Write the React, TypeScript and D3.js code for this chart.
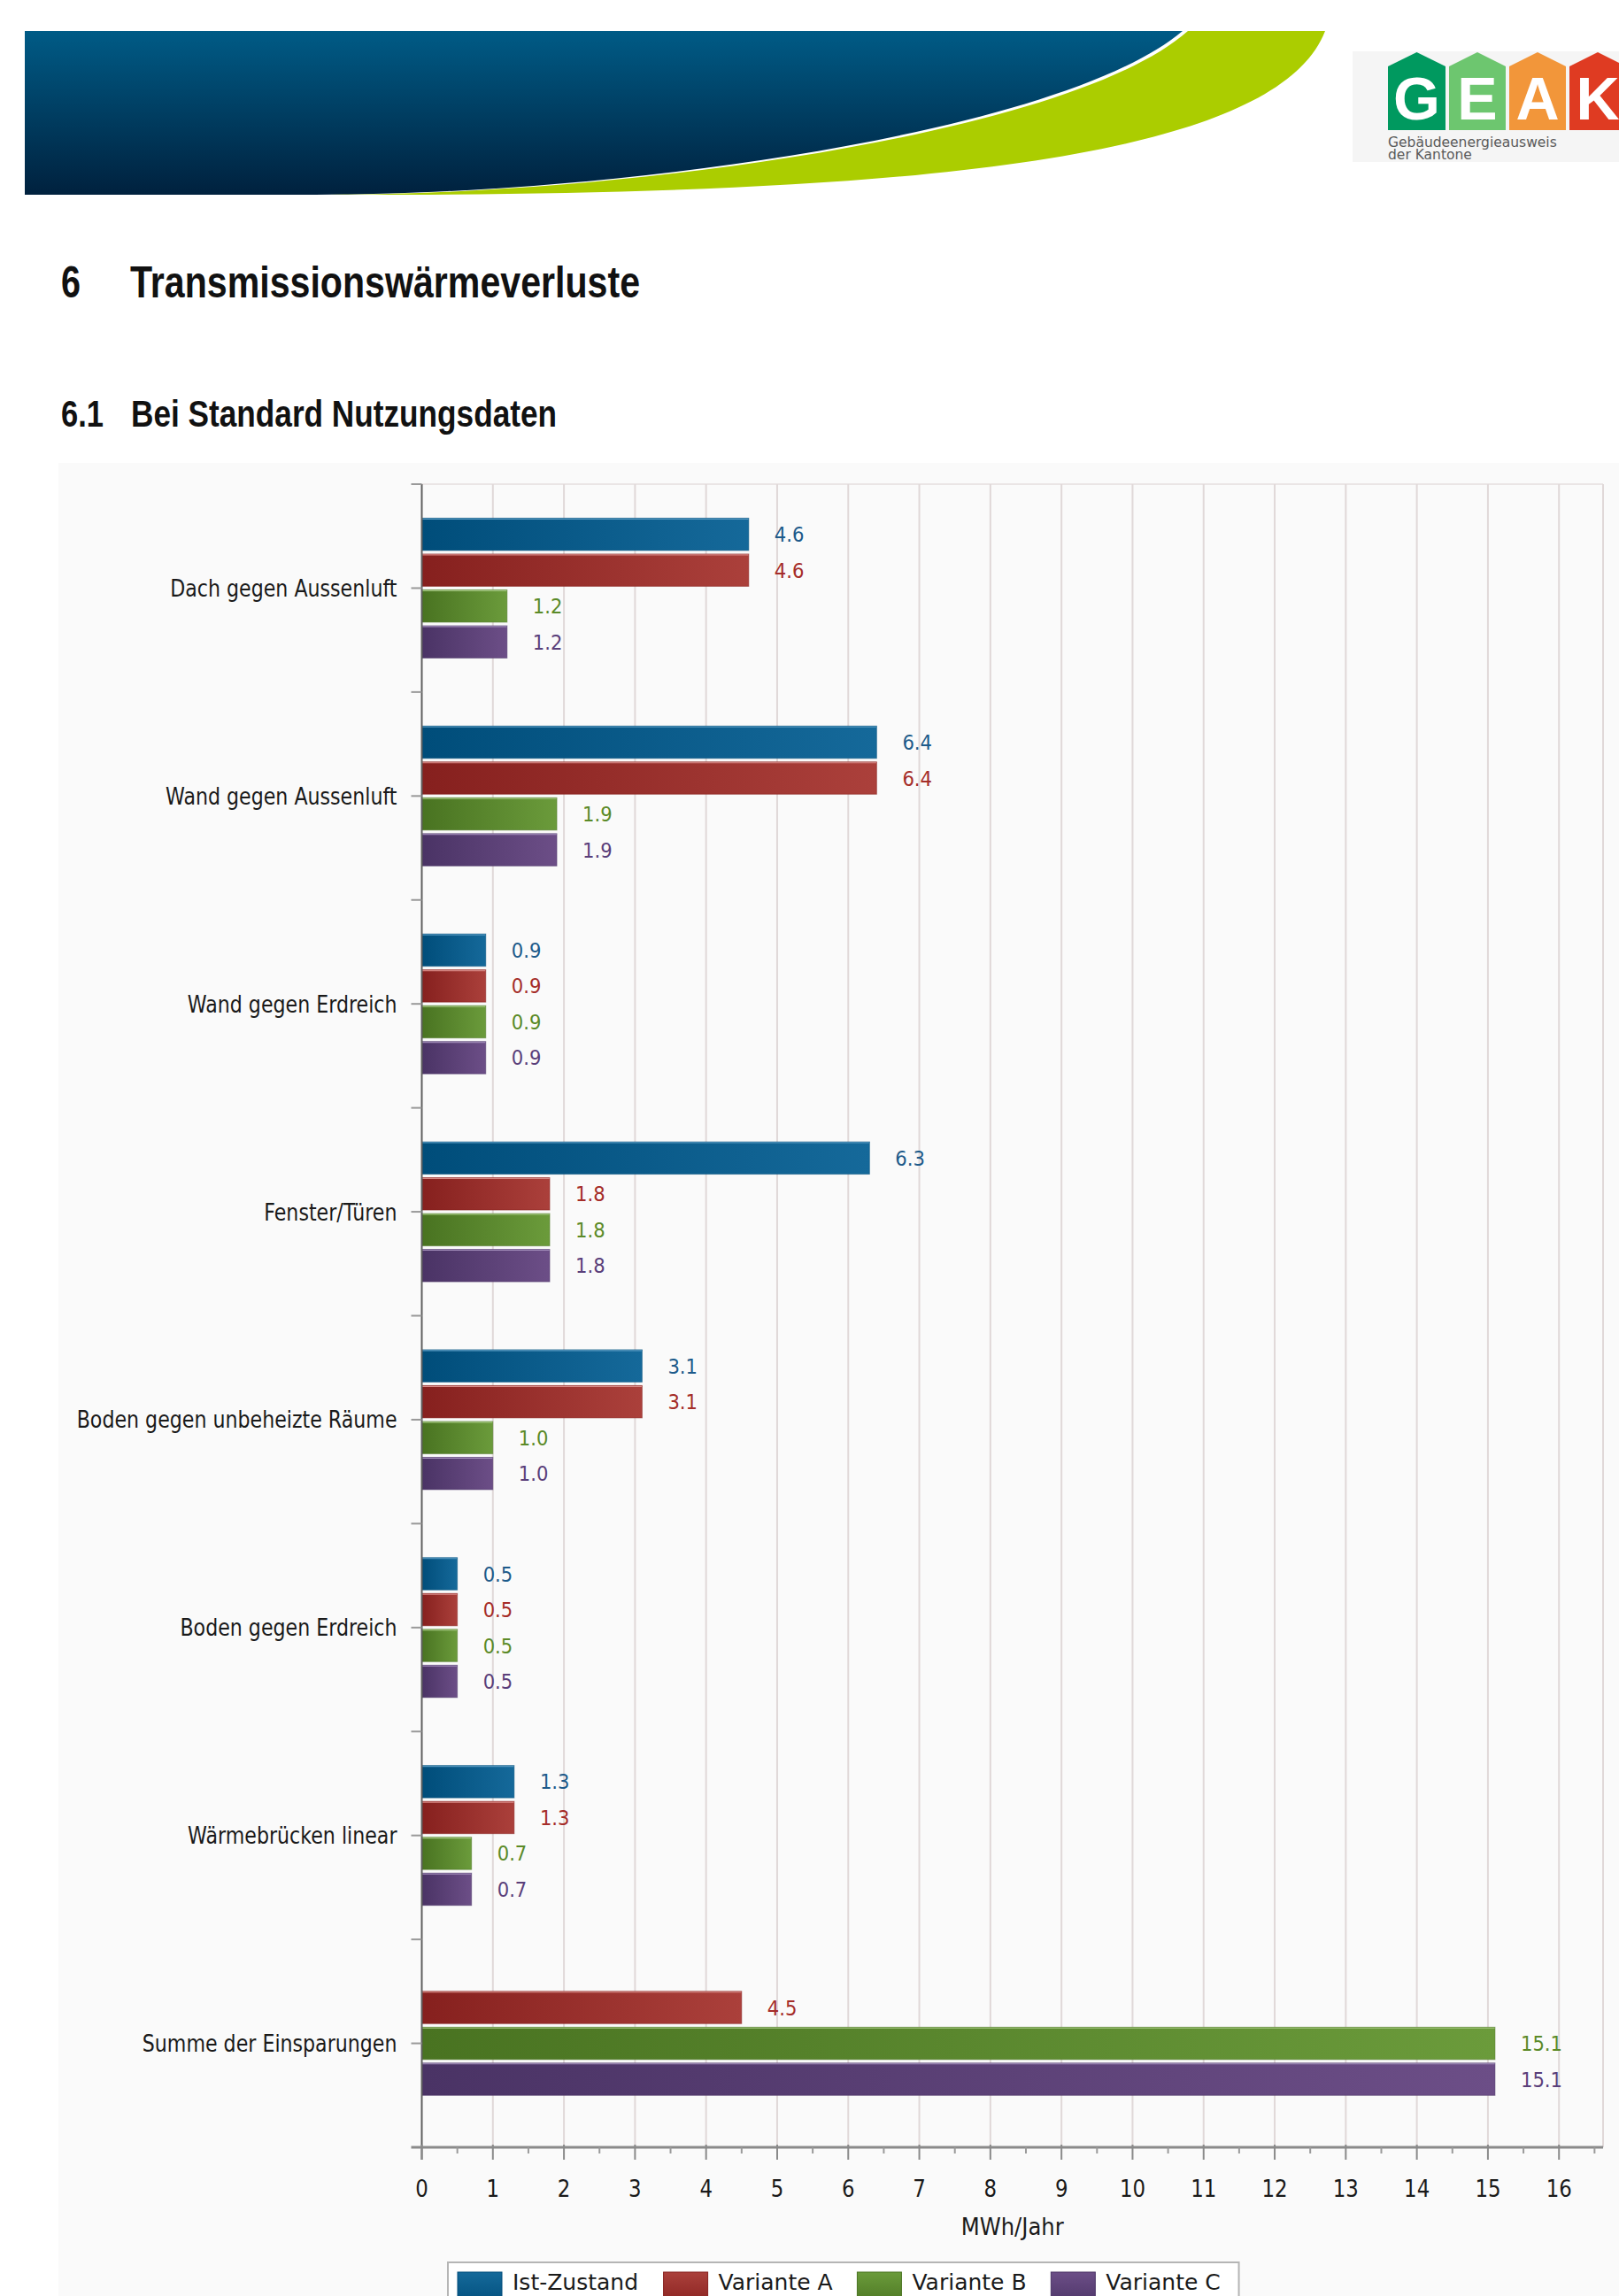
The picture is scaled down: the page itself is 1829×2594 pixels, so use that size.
import React from "react";
import * as d3 from "d3";

const categories = [
  "Dach gegen Aussenluft",
  "Wand gegen Aussenluft",
  "Wand gegen Erdreich",
  "Fenster/Türen",
  "Boden gegen unbeheizte Räume",
  "Boden gegen Erdreich",
  "Wärmebrücken linear",
  "Summe der Einsparungen",
];
const seriesNames = ["Ist-Zustand", "Variante A", "Variante B", "Variante C"];
const istZustand: (number | null)[] = [4.6, 6.4, 0.9, 6.3, 3.1, 0.5, 1.3, null];
const varianteA: (number | null)[] = [4.6, 6.4, 0.9, 1.8, 3.1, 0.5, 1.3, 4.5];
const varianteB: (number | null)[] = [1.2, 1.9, 0.9, 1.8, 1.0, 0.5, 0.7, 15.1];
const varianteC: (number | null)[] = [1.2, 1.9, 0.9, 1.8, 1.0, 0.5, 0.7, 15.1];
const xTickValues = [0, 1, 2, 3, 4, 5, 6, 7, 8, 9, 10, 11, 12, 13, 14, 15, 16];
const xAxisTitle = "MWh/Jahr";

const seriesValues = [istZustand, varianteA, varianteB, varianteC];

const W = 1829;
const H = 2594;

const colors = [
  { dark: "#004d7a", light: "#15699a", edge: "#5a9cc4", text: "#1d5a8a" },
  { dark: "#86201e", light: "#ab403b", edge: "#d88a86", text: "#a52d29" },
  { dark: "#497321", light: "#6b9b3b", edge: "#a6c982", text: "#5b8a28" },
  { dark: "#4a3365", light: "#6c4e87", edge: "#a48fbc", text: "#5a3f7a" },
];

const FONT = "'DejaVu Sans', Verdana, sans-serif";

function measure(text: string, font: string) {
  if (typeof document === "undefined") return text.length * 14;
  const c = document.createElement("canvas");
  const ctx = c.getContext("2d")!;
  ctx.font = font;
  return ctx.measureText(text).width;
}

export default function App() {
  const plotLeft = 476.5;
  const plotRight = 1811;
  const plotTop = 547;
  const plotBottom = 2426;
  const xMax = 16.62;

  const x = d3.scaleLinear().domain([0, xMax]).range([plotLeft, plotRight]);
  const y = d3.scaleBand<string>().domain(categories).range([plotTop, plotBottom]).paddingInner(0).paddingOuter(0);
  const slot = y.bandwidth() * 0.1725;
  const barH = slot - 4;

  const halfTicks = d3.range(0.5, 16.6, 1);

  const bars: JSX.Element[] = [];
  const labels: JSX.Element[] = [];
  categories.forEach((cat, ci) => {
    const present = seriesValues
      .map((vals, si) => ({ si, v: vals[ci] }))
      .filter((d) => d.v !== null && d.v !== undefined) as { si: number; v: number }[];
    const center = (y(cat) as number) + y.bandwidth() / 2;
    const inner = d3
      .scaleBand<number>()
      .domain(present.map((d) => d.si))
      .range([center - (present.length * slot) / 2, center + (present.length * slot) / 2]);
    present.forEach((d) => {
      const by = (inner(d.si) as number) + (slot - barH) / 2;
      const bw = x(d.v) - x(0);
      bars.push(
        <g key={`b-${ci}-${d.si}`}>
          <rect x={x(0)} y={by} width={bw} height={barH} fill={`url(#grad${d.si})`} />
          <line x1={x(0)} x2={x(0) + bw} y1={by + 0.75} y2={by + 0.75} stroke={colors[d.si].edge} strokeWidth={1.5} />
          <rect x={x(0)} y={by} width={bw} height={barH} fill="none" stroke={colors[d.si].dark} strokeOpacity={0.5} strokeWidth={1} />
        </g>
      );
      const tx = x(d.v) + 29;
      const ty = by + barH / 2 + 8.5;
      labels.push(
        <text
          key={`l-${ci}-${d.si}`}
          transform={`translate(${tx},${ty}) scale(0.9,1)`}
          fontFamily={FONT}
          fontSize={23.5}
          fill={colors[d.si].text}
        >
          {d.v.toFixed(1)}
        </text>
      );
    });
  });

  // legend layout
  const legendFont = `26.5px ${FONT}`;
  const legendX = 506;
  const legendTop = 2556;
  let cursor = legendX + 11;
  const legendItems = seriesNames.map((name, i) => {
    const sx = cursor;
    const tx = sx + 62;
    const tw = measure(name, legendFont);
    cursor = tx + tw + 20;
    return { name, i, sx, tx };
  });
  const legendRight = cursor - 7;

  // header shapes
  const bluePath = "M28,35 L1336,35 C1200,150 700,220 356,220 L28,220 Z";
  const greenPath = "M1342,35 L1497,35 C1440,185 1000,218 455,220 L372,220 C706,220 1210,152 1342,35 Z";

  const houses = [
    { letter: "G", fill: "#00995f", x0: 1568, x1: 1633 },
    { letter: "E", fill: "#6dc66f", x0: 1637, x1: 1701 },
    { letter: "A", fill: "#f2963a", x0: 1705, x1: 1769 },
    { letter: "K", fill: "#df3b22", x0: 1773, x1: 1837 },
  ];

  return (
    <svg
      width={W}
      height={H}
      viewBox={`0 0 ${W} ${H}`}
      style={{ position: "absolute", left: 0, top: 0, background: "#ffffff" }}
    >
      <defs>
        <linearGradient id="blueBand" x1="0" y1="0" x2="0" y2="1">
          <stop offset="0" stopColor="#005b86" />
          <stop offset="1" stopColor="#00213e" />
        </linearGradient>
        {colors.map((c, i) => (
          <linearGradient key={i} id={`grad${i}`} x1="0" y1="0" x2="1" y2="0">
            <stop offset="0" stopColor={c.dark} />
            <stop offset="1" stopColor={c.light} />
          </linearGradient>
        ))}
        {colors.map((c, i) => (
          <linearGradient key={`s${i}`} id={`sw${i}`} x1="0" y1="0" x2="0" y2="1">
            <stop offset="0" stopColor={c.light} />
            <stop offset="1" stopColor={c.dark} />
          </linearGradient>
        ))}
        <clipPath id="pageClip">
          <rect x={0} y={0} width={W} height={H} />
        </clipPath>
      </defs>

      {/* Header band */}
      <path d={bluePath} fill="url(#blueBand)" />
      <path d={greenPath} fill="#abcd00" />

      {/* Logo */}
      <g clipPath="url(#pageClip)">
        <rect x={1528} y={58} width={301} height={125} fill="#f5f5f5" />
        {houses.map((h) => {
          const cx = (h.x0 + h.x1) / 2;
          return (
            <g key={h.letter}>
              <path d={`M${h.x0},75 L${cx},59 L${h.x1},75 L${h.x1},147 L${h.x0},147 Z`} fill={h.fill} />
              <text x={cx} y={135} textAnchor="middle" fontFamily="'Liberation Sans', Arial, sans-serif" fontWeight="bold" fontSize={68} fill="#ffffff">
                {h.letter}
              </text>
            </g>
          );
        })}
        <text x={1568} y={166} fontFamily="'DejaVu Sans', sans-serif" fontSize={15.5} fill="#5a5a5a">
          Gebäudeenergieausweis
        </text>
        <text x={1568} y={180} fontFamily="'DejaVu Sans', sans-serif" fontSize={15.5} fill="#5a5a5a">
          der Kantone
        </text>
      </g>

      {/* Titles */}
      <text x={69} y={336} fontFamily="'Liberation Sans Narrow', 'Arial Narrow', 'Liberation Sans', sans-serif" fontWeight="bold" fontSize={50} fill="#111" textLength={22} lengthAdjust="spacingAndGlyphs">
        6
      </text>
      <text x={147} y={336} fontFamily="'Liberation Sans Narrow', 'Arial Narrow', 'Liberation Sans', sans-serif" fontWeight="bold" fontSize={50} fill="#111" textLength={576} lengthAdjust="spacingAndGlyphs">
        Transmissionswärmeverluste
      </text>
      <text x={69} y={482} fontFamily="'Liberation Sans Narrow', 'Arial Narrow', 'Liberation Sans', sans-serif" fontWeight="bold" fontSize={43} fill="#111" textLength={48} lengthAdjust="spacingAndGlyphs">
        6.1
      </text>
      <text x={148} y={482} fontFamily="'Liberation Sans Narrow', 'Arial Narrow', 'Liberation Sans', sans-serif" fontWeight="bold" fontSize={43} fill="#111" textLength={481} lengthAdjust="spacingAndGlyphs">
        Bei Standard Nutzungsdaten
      </text>

      {/* Chart background */}
      <rect x={66} y={523} width={W - 66} height={H - 523} fill="#fafafa" />

      {/* Grid */}
      <line x1={plotLeft} x2={plotRight} y1={plotTop} y2={plotTop} stroke="#e4dede" strokeWidth={1.5} />
      {xTickValues.filter((t) => t > 0).map((t) => (
        <line key={`g${t}`} x1={x(t)} x2={x(t)} y1={plotTop} y2={plotBottom} stroke="#e0d8d8" strokeWidth={2} />
      ))}
      <line x1={plotRight} x2={plotRight} y1={plotTop} y2={plotBottom} stroke="#e0d8d8" strokeWidth={2} />

      {/* Bars */}
      {bars}
      {labels}

      {/* Y axis */}
      <line x1={plotLeft} x2={plotLeft} y1={plotTop} y2={plotBottom + 14} stroke="#5e5e5e" strokeWidth={2} />
      {categories.map((cat) => {
        const top = y(cat) as number;
        const c = top + y.bandwidth() / 2;
        return (
          <g key={`yt-${cat}`}>
            <line x1={plotLeft - 12} x2={plotLeft} y1={top} y2={top} stroke="#999" strokeWidth={2} />
            <line x1={plotLeft - 12} x2={plotLeft} y1={c} y2={c} stroke="#999" strokeWidth={2} />
            <text
              transform={`translate(${plotLeft - 28},${c + 9.5}) scale(0.82,1)`}
              textAnchor="end"
              fontFamily={FONT}
              fontSize={27}
              fill="#1a1a1a"
            >
              {cat}
            </text>
          </g>
        );
      })}

      {/* X axis */}
      <line x1={plotLeft - 12} x2={plotRight} y1={plotBottom} y2={plotBottom} stroke="#8a8a8a" strokeWidth={3} />
      {xTickValues.map((t) => (
        <g key={`xt${t}`}>
          <line x1={x(t)} x2={x(t)} y1={plotBottom - 3} y2={plotBottom + 14} stroke="#8a8a8a" strokeWidth={2} />
          <text
            transform={`translate(${x(t)},${plotBottom + 56}) scale(0.88,1)`}
            textAnchor="middle"
            fontFamily={FONT}
            fontSize={26}
            fill="#1a1a1a"
          >
            {t}
          </text>
        </g>
      ))}
      {halfTicks.map((t) => (
        <line key={`mt${t}`} x1={x(t)} x2={x(t)} y1={plotBottom} y2={plotBottom + 7} stroke="#9a9a9a" strokeWidth={2} />
      ))}
      <text
        transform={`translate(${(plotLeft + plotRight) / 2},${plotBottom + 99}) scale(0.9,1)`}
        textAnchor="middle"
        fontFamily={FONT}
        fontSize={27}
        fill="#1a1a1a"
      >
        {xAxisTitle}
      </text>

      {/* Legend */}
      <rect x={legendX} y={legendTop} width={legendRight - legendX} height={H - legendTop + 20} fill="#ffffff" stroke="#b5b5b5" strokeWidth={2} />
      {legendItems.map((it) => (
        <g key={it.name}>
          <rect x={it.sx} y={legendTop + 11} width={50} height={40} fill={`url(#sw${it.i})`} stroke={colors[it.i].dark} strokeWidth={1} />
          <text x={it.tx} y={legendTop + 31} fontFamily={FONT} fontSize={25} fill="#1a1a1a">
            {it.name}
          </text>
        </g>
      ))}
    </svg>
  );
}
